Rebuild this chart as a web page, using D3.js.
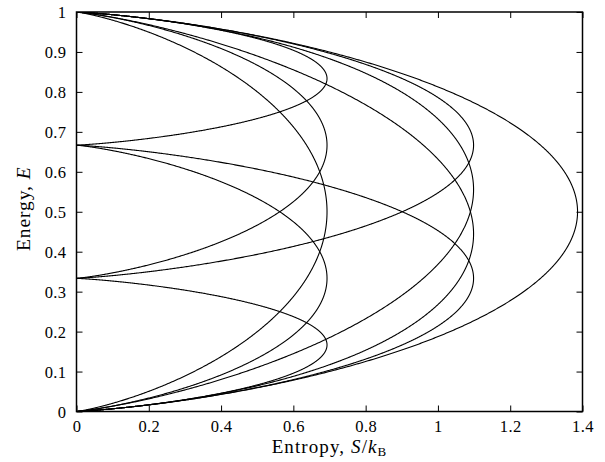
<!DOCTYPE html>
<html>
<head>
<meta charset="utf-8">
<script src="https://cdn.jsdelivr.net/npm/d3@7"></script>
<style>
body{margin:0;background:#fff;}
text{font-family:"Liberation Serif","Times New Roman",serif;fill:#000;}
</style>
</head>
<body>
<svg id="chart" width="605" height="462"></svg>
<script>
const energyLevels = [0, 1/3, 2/3, 1];
// Each series: the subset of levels the system may occupy (max-entropy curve S(E))
const seriesLevels = [
  [0, 1/3], [2/3, 1],
  [0, 2/3], [1/3, 1], [0, 1],
  [0, 1/3, 2/3], [1/3, 2/3, 1], [0, 1/3, 1], [0, 2/3, 1],
  [0, 1/3, 2/3, 1]
];
const xTicks = [0, 0.2, 0.4, 0.6, 0.8, 1, 1.2, 1.4];
const yTicks = [0, 0.1, 0.2, 0.3, 0.4, 0.5, 0.6, 0.7, 0.8, 0.9, 1];

const svg = d3.select("#chart");
const L = 76.5, R = 582.5, T = 12, B = 411.5;
const x = d3.scaleLinear().domain([0, 1.4]).range([L, R]);
const y = d3.scaleLinear().domain([0, 1]).range([B, T]);

// Boltzmann (max-entropy) curve for a set of levels
function curve(levels) {
  const pts = [];
  const n = 3000;
  for (let i = 0; i <= n; i++) {
    const u = -9 + 18 * i / n;
    const beta = Math.sinh(u);
    const w = levels.map(e => -beta * e);
    const m = d3.max(w);
    const ex = w.map(v => Math.exp(v - m));
    const Z = d3.sum(ex);
    const p = ex.map(v => v / Z);
    const E = d3.sum(p.map((pi, k) => pi * levels[k]));
    const S = -d3.sum(p.map(pi => pi > 0 ? pi * Math.log(pi) : 0));
    pts.push([S, E]);
  }
  return pts;
}

svg.append("clipPath").attr("id", "clip").append("rect")
  .attr("x", L).attr("y", T).attr("width", R - L).attr("height", B - T);

const line = d3.line().x(d => x(d[0])).y(d => y(d[1]));
svg.append("g").attr("clip-path", "url(#clip)")
  .selectAll("path").data(seriesLevels).join("path")
  .attr("d", d => line(curve(d)))
  .attr("fill", "none").attr("stroke", "#000").attr("stroke-width", 1.1);

// Axes (ticks inward, mirrored)
const tl = 6;
const xb = svg.append("g").attr("transform", `translate(0,${B})`)
  .call(d3.axisBottom(x).tickValues(xTicks).tickSize(-tl).tickPadding(9).tickFormat(d3.format("~g")));
const xt = svg.append("g").attr("transform", `translate(0,${T})`)
  .call(d3.axisTop(x).tickValues(xTicks).tickSize(-tl).tickFormat(""));
const yl = svg.append("g").attr("transform", `translate(${L},0)`)
  .call(d3.axisLeft(y).tickValues(yTicks).tickSize(-tl).tickPadding(10).tickFormat(d3.format("~g")));
const yr = svg.append("g").attr("transform", `translate(${R},0)`)
  .call(d3.axisRight(y).tickValues(yTicks).tickSize(-tl).tickFormat(""));
[xb, xt, yl, yr].forEach(g => {
  g.select(".domain").remove();
  g.selectAll(".tick line").attr("stroke", "#000").attr("stroke-width", 1);
  g.selectAll("text").style("font-size", "16.5px").style("font-family", "Liberation Serif, serif")
    .style("letter-spacing", "0.4px");
});
xb.selectAll("text").attr("dy", "0.71em");
yl.selectAll("text").attr("dy", "0.34em");

svg.append("rect").attr("x", L).attr("y", T).attr("width", R - L).attr("height", B - T)
  .attr("fill", "none").attr("stroke", "#000").attr("stroke-width", 1.5);

// Axis titles
const xTitle = svg.append("text").attr("x", (L + R) / 2).attr("y", 453)
  .attr("text-anchor", "middle").style("font-size", "19px").style("letter-spacing", "1.1px");
xTitle.append("tspan").text("Entropy, ");
xTitle.append("tspan").attr("font-style", "italic").text("S");
xTitle.append("tspan").text("/");
xTitle.append("tspan").attr("font-style", "italic").text("k");
xTitle.append("tspan").attr("dy", "3").style("font-size", "13px").text("B");

const yTitle = svg.append("text").attr("transform", `translate(30,${(T + B) / 2 - 3}) rotate(-90)`)
  .attr("text-anchor", "middle").style("font-size", "19.5px").style("letter-spacing", "0.9px");
yTitle.append("tspan").text("Energy, ");
yTitle.append("tspan").attr("font-style", "italic").text("E");
</script>
</body>
</html>
